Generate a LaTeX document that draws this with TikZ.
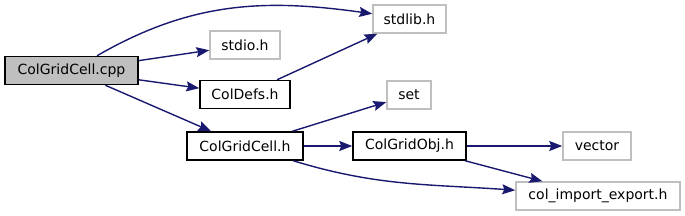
\documentclass[tikz,border=0pt]{standalone}
\usepackage{fontspec}
\setmainfont{DejaVu Sans}
\usetikzlibrary{arrows.meta, positioning, calc}
\definecolor{edgeblue}{HTML}{191970}
\definecolor{sysgray}{HTML}{BFBFBF}

\begin{document}
\begin{tikzpicture}[x=1pt, y=1pt, >={Stealth[length=13pt, width=10pt, inset=2pt]},
    file/.style={rectangle, draw=black, line width=1.5pt, fill=white, minimum height=28pt,
      inner sep=0pt, font=\fontsize{14}{16}\selectfont},
    sys/.style={file, draw=sysgray},
    main/.style={file, fill=sysgray},
    dep/.style={->, draw=edgeblue, line width=1.4pt}]
  \useasboundingbox (0,0) rectangle (685,215);

  \node[main, minimum width=133pt] (cpp) at (71.5,144.5) {ColGridCell.cpp};
  \node[sys, minimum width=70pt] (stdio) at (245,170) {stdio.h};
  \node[file, minimum width=90pt] (defs) at (245,120.5) {ColDefs.h};
  \node[file, minimum width=116pt] (cellh) at (245,69) {ColGridCell.h};
  \node[sys, minimum width=73pt] (stdlib) at (409.5,196) {stdlib.h};
  \node[sys, minimum width=44pt] (set) at (409,120) {set};
  \node[file, minimum width=113pt] (obj) at (409.5,69) {ColGridObj.h};
  \node[sys, minimum width=68pt] (vector) at (597,69) {vector};
  \node[sys, minimum width=164pt] (impexp) at (598,19) {col\_import\_export.h};

  \draw[dep] (cpp) to[out=30, in=172] (stdlib);
  \draw[dep] (cpp) -- (stdio);
  \draw[dep] (cpp) -- (defs);
  \draw[dep] (cpp) -- (cellh);
  \draw[dep] (defs) -- (stdlib);
  \draw[dep] (cellh) -- (set);
  \draw[dep] (cellh) -- (obj);
  \draw[dep] (cellh) to[out=-17, in=176] (impexp);
  \draw[dep] (obj) -- (vector);
  \draw[dep] (obj) -- (impexp);
\end{tikzpicture}
\end{document}
